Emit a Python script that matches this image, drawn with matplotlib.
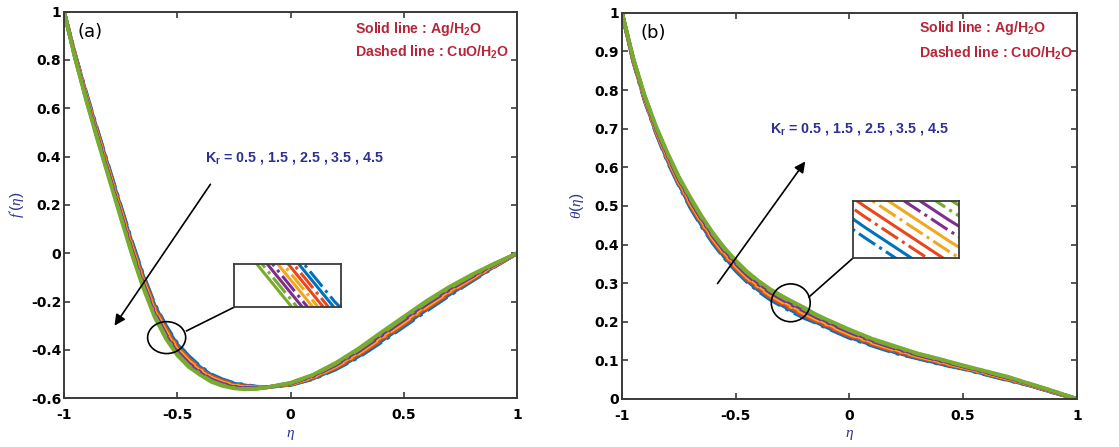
import matplotlib
matplotlib.use("Agg")
import matplotlib.pyplot as plt
from matplotlib.patches import Ellipse
from matplotlib.ticker import FuncFormatter

plt.rcParams['font.family'] = ['Liberation Sans', 'DejaVu Sans']
plt.rcParams['axes.unicode_minus'] = False
plt.rcParams['mathtext.fontset'] = 'custom'
plt.rcParams['mathtext.rm'] = 'Liberation Sans'
plt.rcParams['mathtext.bf'] = 'Liberation Sans:bold'
plt.rcParams['mathtext.it'] = 'Liberation Serif:italic'

# eta grid (denser where the curves bend)
eta = [-1.0, -0.95, -0.9, -0.85, -0.8, -0.75, -0.7, -0.65, -0.6, -0.55, -0.5,
       -0.45, -0.4, -0.35, -0.3, -0.25, -0.2, -0.15, -0.1, 0.0,
       0.1, 0.2, 0.3, 0.4, 0.5, 0.6, 0.7, 0.8, 0.9, 1.0]

kr_values = [0.5, 1.5, 2.5, 3.5, 4.5]
colors = ['#0072BD', '#E8471C', '#F0A81E', '#7E2F8E', '#77AC30']

# panel (a): f'(eta), solid = Ag/H2O, dashed = CuO/H2O
fp_ag_05 = [1.0, .818, .654, .498, .345, .192, .042, -.096, -.216, -.306, -.378, -.430, -.471, -.504, -.525,
            -.539, -.547, -.553, -.554, -.544, -.518, -.477, -.426, -.363, -.298, -.233, -.171, -.112, -.054, 0.0]
fp_ag_15 = [1.0, .814, .647, .489, .335, .181, .030, -.108, -.228, -.318, -.389, -.440, -.479, -.511, -.531,
            -.544, -.551, -.555, -.554, -.542, -.514, -.471, -.418, -.354, -.289, -.224, -.163, -.106, -.051, 0.0]
fp_ag_25 = [1.0, .810, .640, .480, .325, .170, .018, -.120, -.240, -.330, -.400, -.450, -.487, -.518, -.537,
            -.549, -.555, -.557, -.554, -.540, -.510, -.465, -.410, -.345, -.280, -.215, -.155, -.100, -.048, 0.0]
fp_ag_35 = [1.0, .806, .633, .471, .315, .159, .006, -.132, -.252, -.342, -.411, -.460, -.495, -.525, -.543,
            -.554, -.559, -.559, -.554, -.538, -.506, -.459, -.402, -.336, -.271, -.206, -.147, -.094, -.045, 0.0]
fp_ag_45 = [1.0, .802, .626, .462, .305, .148, -.006, -.144, -.264, -.354, -.422, -.470, -.503, -.532, -.549,
            -.559, -.563, -.561, -.554, -.536, -.502, -.453, -.394, -.327, -.262, -.197, -.139, -.088, -.042, 0.0]

fp_cuo_05 = [1.0, .820, .658, .503, .350, .198, .048, -.090, -.210, -.300, -.373, -.425, -.467, -.501, -.522,
             -.537, -.545, -.552, -.554, -.545, -.520, -.480, -.430, -.368, -.303, -.238, -.175, -.115, -.056, 0.0]
fp_cuo_15 = [1.0, .816, .651, .494, .340, .187, .036, -.102, -.222, -.312, -.384, -.435, -.475, -.508, -.528,
             -.542, -.549, -.554, -.554, -.543, -.516, -.474, -.422, -.359, -.294, -.229, -.167, -.109, -.053, 0.0]
fp_cuo_25 = [1.0, .812, .644, .485, .330, .176, .024, -.114, -.234, -.324, -.395, -.445, -.483, -.515, -.534,
             -.547, -.553, -.556, -.554, -.541, -.512, -.468, -.414, -.350, -.285, -.220, -.159, -.103, -.050, 0.0]
fp_cuo_35 = [1.0, .808, .637, .476, .320, .165, .012, -.126, -.246, -.336, -.406, -.455, -.491, -.522, -.540,
             -.552, -.557, -.558, -.554, -.539, -.508, -.462, -.406, -.341, -.276, -.211, -.151, -.097, -.047, 0.0]
fp_cuo_45 = [1.0, .804, .630, .467, .310, .154, .000, -.138, -.258, -.348, -.417, -.465, -.499, -.529, -.546,
             -.557, -.561, -.560, -.554, -.537, -.504, -.456, -.398, -.332, -.267, -.202, -.143, -.091, -.044, 0.0]

# panel (b): theta(eta)
th_ag_05 = [1.0, .874, .774, .690, .618, .556, .499, .450, .406, .368, .335, .306, .282, .261, .244,
            .228, .213, .200, .186, .160, .140, .121, .106, .091, .079, .064, .049, .034, .016, 0.0]
th_ag_15 = [1.0, .876, .777, .694, .623, .561, .505, .456, .412, .374, .341, .312, .288, .267, .250,
            .234, .219, .205, .191, .165, .144, .125, .109, .094, .081, .066, .051, .035, .017, 0.0]
th_ag_25 = [1.0, .878, .780, .698, .628, .566, .511, .462, .418, .380, .347, .318, .294, .273, .256,
            .240, .225, .210, .196, .170, .148, .129, .112, .097, .083, .068, .053, .036, .018, 0.0]
th_ag_35 = [1.0, .880, .783, .702, .633, .571, .517, .468, .424, .386, .353, .324, .300, .279, .262,
            .246, .231, .215, .201, .175, .152, .133, .115, .100, .085, .070, .055, .037, .019, 0.0]
th_ag_45 = [1.0, .882, .786, .706, .638, .576, .523, .474, .430, .392, .359, .330, .306, .285, .268,
            .252, .237, .220, .206, .180, .156, .137, .118, .103, .087, .072, .057, .038, .020, 0.0]

th_cuo_05 = [1.0, .873, .772, .688, .615, .553, .496, .447, .403, .365, .332, .303, .279, .258, .241,
             .225, .210, .198, .184, .158, .138, .119, .105, .090, .078, .063, .048, .034, .016, 0.0]
th_cuo_15 = [1.0, .875, .775, .692, .620, .558, .502, .453, .409, .371, .338, .309, .285, .264, .247,
             .231, .216, .203, .189, .163, .142, .123, .108, .093, .080, .065, .050, .035, .017, 0.0]
th_cuo_25 = [1.0, .877, .778, .696, .625, .563, .508, .459, .415, .377, .344, .315, .291, .270, .253,
             .237, .222, .208, .194, .168, .146, .127, .111, .096, .082, .067, .052, .036, .018, 0.0]
th_cuo_35 = [1.0, .879, .781, .700, .630, .568, .514, .465, .421, .383, .350, .321, .297, .276, .259,
             .243, .228, .213, .199, .173, .150, .131, .114, .099, .084, .069, .054, .037, .019, 0.0]
th_cuo_45 = [1.0, .881, .784, .704, .635, .573, .520, .471, .427, .389, .356, .327, .303, .282, .265,
             .249, .234, .218, .204, .178, .154, .135, .117, .102, .086, .071, .056, .038, .020, 0.0]

fp_ag = [fp_ag_05, fp_ag_15, fp_ag_25, fp_ag_35, fp_ag_45]
fp_cuo = [fp_cuo_05, fp_cuo_15, fp_cuo_25, fp_cuo_35, fp_cuo_45]
th_ag = [th_ag_05, th_ag_15, th_ag_25, th_ag_35, th_ag_45]
th_cuo = [th_cuo_05, th_cuo_15, th_cuo_25, th_cuo_35, th_cuo_45]

x_ticks = [-1, -0.5, 0, 0.5, 1]
fp_ticks = [-0.6, -0.4, -0.2, 0, 0.2, 0.4, 0.6, 0.8, 1]
th_ticks = [0, 0.1, 0.2, 0.3, 0.4, 0.5, 0.6, 0.7, 0.8, 0.9, 1]
kr_label = r'K$_\mathbf{r}$ = ' + ' , '.join(f'{k:g}' for k in kr_values)

red_txt = '#B5263A'
blue_txt = '#2E3192'
frame = '#3a3a3a'
fmt = FuncFormatter(lambda v, p: f'{v:g}')


def style_axes(ax):
    for s in ax.spines.values():
        s.set_color(frame)
        s.set_linewidth(1.4)
    ax.tick_params(direction='in', length=4, width=1.2, color=frame,
                   top=True, right=True)
    ax.tick_params(axis='x', pad=7)
    ax.tick_params(axis='y', pad=2)
    for lab in ax.get_xticklabels() + ax.get_yticklabels():
        lab.set_family('DejaVu Sans')
        lab.set_fontweight('bold')
        lab.set_fontsize(10)


def draw_lines(ax, ag, cuo, lw):
    for c, a, b in zip(colors, ag, cuo):
        ax.plot(eta, a, color=c, lw=lw, ls='-')
        ax.plot(eta, b, color=c, lw=lw, ls='-.')


def add_inset(ax, bounds, ag, cuo, xl, yl):
    ins = ax.inset_axes(bounds)
    draw_lines(ins, ag, cuo, 2.2)
    ins.set_xlim(xl)
    ins.set_ylim(yl)
    ins.set_xticks([])
    ins.set_yticks([])
    for s in ins.spines.values():
        s.set_color(frame)
        s.set_linewidth(1.3)
    return ins


fig = plt.figure(figsize=(11.19, 4.47), dpi=100)
ax1 = fig.add_axes([0.0572, 0.109, 0.405, 0.865])
ax2 = fig.add_axes([0.5558, 0.1074, 0.4066, 0.864])

# ---- panel (a)
draw_lines(ax1, fp_ag, fp_cuo, 2.7)
ax1.set_xlim(-1, 1)
ax1.set_ylim(-0.6, 1)
ax1.set_xticks(x_ticks)
ax1.set_yticks(fp_ticks)
ax1.xaxis.set_major_formatter(fmt)
ax1.yaxis.set_major_formatter(fmt)
style_axes(ax1)
ax1.set_xlabel(r'$\eta$', color=blue_txt, fontsize=11, labelpad=4)
ax1.set_ylabel(r"$f'(\eta)$", color=blue_txt, fontsize=11, labelpad=2)
ax1.text(-0.94, 0.916, '(a)', fontsize=13, family='DejaVu Sans', va='center')
ax1.text(0.284, 0.93, r'Solid line : Ag/H$_\mathbf{2}$O', color=red_txt,
         fontsize=10.2, fontweight='bold', va='center')
ax1.text(0.284, 0.83, r'Dashed line : CuO/H$_\mathbf{2}$O', color=red_txt,
         fontsize=10.2, fontweight='bold', va='center')
ax1.text(-0.378, 0.395, kr_label, color=blue_txt, fontsize=10.3,
         fontweight='bold', va='center')
ax1.annotate('', xy=(-0.784, -0.309), xytext=(-0.347, 0.295),
             arrowprops=dict(arrowstyle='-|>', color='black', lw=1.2,
                             mutation_scale=16))
ax1.add_patch(Ellipse((-0.547, -0.349), 0.168, 0.132, fill=False,
                      ec='black', lw=1.2, zorder=5))
add_inset(ax1, [0.375, 0.236, 0.236, 0.111], fp_ag, fp_cuo,
          (-0.614, -0.546), (-0.305, -0.265))
ax1.plot([-0.459, -0.249], [-0.321, -0.223], color='black', lw=1.2)

# ---- panel (b)
draw_lines(ax2, th_ag, th_cuo, 2.7)
ax2.set_xlim(-1, 1)
ax2.set_ylim(0, 1)
ax2.set_xticks(x_ticks)
ax2.set_yticks(th_ticks)
ax2.xaxis.set_major_formatter(fmt)
ax2.yaxis.set_major_formatter(fmt)
style_axes(ax2)
ax2.set_xlabel(r'$\eta$', color=blue_txt, fontsize=11, labelpad=4)
ax2.set_ylabel(r'$\theta(\eta)$', color=blue_txt, fontsize=11, labelpad=6)
ax2.text(-0.92, 0.947, '(b)', fontsize=13, family='DejaVu Sans', va='center')
ax2.text(0.305, 0.96, r'Solid line : Ag/H$_\mathbf{2}$O', color=red_txt,
         fontsize=10.2, fontweight='bold', va='center')
ax2.text(0.305, 0.895, r'Dashed line : CuO/H$_\mathbf{2}$O', color=red_txt,
         fontsize=10.2, fontweight='bold', va='center')
ax2.text(-0.35, 0.70, kr_label, color=blue_txt, fontsize=10.3,
         fontweight='bold', va='center')
ax2.annotate('', xy=(-0.187, 0.621), xytext=(-0.587, 0.293),
             arrowprops=dict(arrowstyle='-|>', color='black', lw=1.2,
                             mutation_scale=16))
ax2.add_patch(Ellipse((-0.258, 0.249), 0.171, 0.098, fill=False,
                      ec='black', lw=1.2, zorder=5))
add_inset(ax2, [0.507, 0.364, 0.234, 0.149], th_ag, th_cuo,
          (-0.307, -0.244), (0.235, 0.2515))
ax2.plot([-0.178, 0.014], [0.264, 0.364], color='black', lw=1.2)

fig.savefig('out.png', dpi=100)
